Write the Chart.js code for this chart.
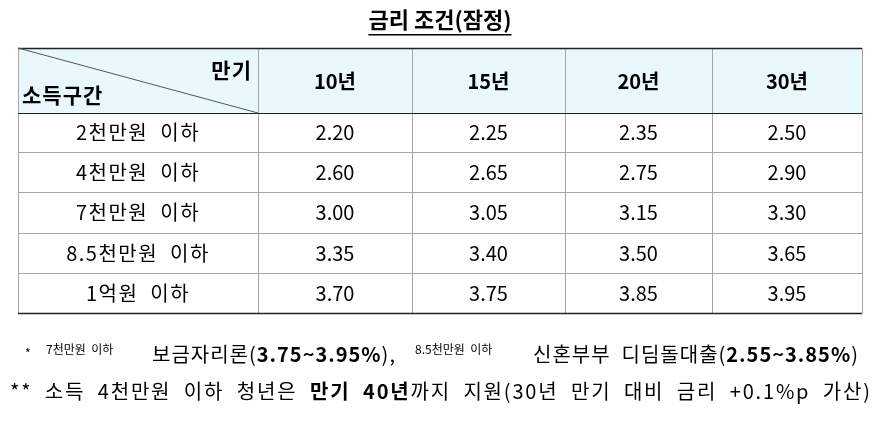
<!DOCTYPE html>
<html><head><meta charset="utf-8">
<script src="https://cdn.jsdelivr.net/npm/chart.js@4/dist/chart.umd.min.js"></script>
<style>html,body{margin:0;padding:0;background:#fff}#w{width:892px;height:423px}</style>
</head><body><div id="w"><canvas id="c"></canvas></div>
<script>
const title = "금리 조건(잠정)";
const terms = ["10년", "15년", "20년", "30년"];
const incomeBands = ["2천만원  이하", "4천만원  이하", "7천만원  이하", "8.5천만원  이하", "1억원  이하"];
const rate10 = [2.20, 2.60, 3.00, 3.35, 3.70];
const rate15 = [2.25, 2.65, 3.05, 3.40, 3.75];
const rate20 = [2.35, 2.75, 3.15, 3.50, 3.85];
const rate30 = [2.50, 2.90, 3.30, 3.65, 3.95];
const colEdges = [0, 240, 394, 547, 694, 844];
const rowEdges = [0, 65, 104, 144, 185, 225, 265];
const FONT = '"Noto Sans CJK KR", "Noto Sans", sans-serif';

const series = [rate10, rate15, rate20, rate30];
const pts = [];
series.forEach((s, ci) => s.forEach((v, ri) => pts.push({
  x: (colEdges[ci+1] + colEdges[ci+2]) / 2,
  y: (rowEdges[ri+1] + rowEdges[ri+2]) / 2, v })));

const tablePlugin = {
  id: 'table',
  beforeDatasetsDraw(chart) {
    const {ctx, scales: {x, y}} = chart;
    const X = v => x.getPixelForValue(v), Y = v => y.getPixelForValue(v);
    ctx.save();
    ctx.fillStyle = '#e9f8fd';
    ctx.fillRect(X(0), Y(0), X(844) - X(0), Y(65) - Y(0));
    ctx.strokeStyle = '#a6a6a6'; ctx.lineWidth = 1;
    colEdges.forEach(c => { ctx.beginPath(); ctx.moveTo(Math.round(X(c))+.5, Y(0)); ctx.lineTo(Math.round(X(c))+.5, Y(265)); ctx.stroke(); });
    rowEdges.forEach((r, i) => {
      ctx.strokeStyle = (i === 0 || i === 1 || i === rowEdges.length-1) ? '#222' : '#a6a6a6';
      ctx.lineWidth = (i === 0 || i === rowEdges.length-1) ? 1.5 : 1;
      ctx.beginPath(); ctx.moveTo(X(0), Math.round(Y(r))+.5); ctx.lineTo(X(844), Math.round(Y(r))+.5); ctx.stroke();
    });
    ctx.strokeStyle = '#555'; ctx.lineWidth = 1;
    ctx.beginPath(); ctx.moveTo(X(0), Y(0)); ctx.lineTo(X(240), Y(65)); ctx.stroke();
    ctx.fillStyle = '#000'; ctx.textBaseline = 'middle';
    ctx.font = 'bold 21px ' + FONT;
    ctx.letterSpacing = '1px';
    ctx.textAlign = 'right'; ctx.fillText('만기', X(240) - 6, Y(22));
    ctx.textAlign = 'left'; ctx.fillText('소득구간', X(0) + 4, Y(47));
    ctx.letterSpacing = '0px';
    ctx.font = 'bold 20px ' + FONT;
    ctx.textAlign = 'center';
    terms.forEach((t, i) => ctx.fillText(t, X((colEdges[i+1]+colEdges[i+2])/2), Y(33)));
    ctx.font = '20px ' + FONT;
    ctx.letterSpacing = '1.5px';
    incomeBands.forEach((b, i) => ctx.fillText(b, X(120), Y((rowEdges[i+1]+rowEdges[i+2])/2)));
    ctx.letterSpacing = '0px';
    ctx.restore();
  },
  afterDatasetsDraw(chart) {
    const {ctx} = chart;
    ctx.save(); ctx.fillStyle = '#000'; ctx.textBaseline = 'middle'; ctx.textAlign = 'center';
    ctx.font = '20px ' + FONT;
    chart.data.datasets[0].data.forEach((p, i) => {
      const el = chart.getDatasetMeta(0).data[i];
      ctx.fillText(p.v.toFixed(2), el.x, el.y);
    });
    ctx.font = 'bold 22px ' + FONT;
    ctx.fillText(title, 440, 20);
    const tw = ctx.measureText(title).width;
    ctx.fillRect(440 - tw/2, 34, tw, 1.5);
    ctx.textAlign = 'left'; ctx.textBaseline = 'alphabetic';
    const run = (parts, x0, yb) => { let x = x0; parts.forEach(([t, f, dy]) => { ctx.font = f; ctx.fillText(t, x, yb + (dy||0)); x += ctx.measureText(t).width; }); return x; };
    const R = '20px ' + FONT, B = 'bold 20px ' + FONT, S = '12px ' + FONT;
    run([['*', S, -4]], 25, 362);
    run([['7천만원  이하', S, -8]], 46, 362);
    run([['8.5천만원  이하', S, -8]], 415, 362);
    ctx.letterSpacing = '1px';
    run([['보금자리론(', R], ['3.75~3.95%', B], ['),', R]], 152, 362);
    run([['신혼부부  디딤돌대출(', R], ['2.55~3.85%', B], [')', R]], 533, 362);
    ctx.letterSpacing = '1.8px';
    run([['**  소득  4천만원  이하  청년은  ', R], ['만기  40년', B], ['까지  지원(30년  만기  대비  금리  +0.1%p  가산)', R]], 10, 399);
    ctx.restore();
  }
};

new Chart(document.getElementById('c'), {
  type: 'scatter',
  data: { datasets: [{ data: pts, pointRadius: 0, pointHoverRadius: 0 }] },
  options: {
    responsive: true, maintainAspectRatio: false, animation: false,
    layout: { padding: { left: 18, right: 30, top: 48, bottom: 110 } },
    plugins: { legend: { display: false }, tooltip: { enabled: false } },
    scales: {
      x: { type: 'linear', min: 0, max: 844, display: false },
      y: { type: 'linear', min: 0, max: 265, reverse: true, display: false }
    }
  },
  plugins: [tablePlugin]
});
</script></body></html>
